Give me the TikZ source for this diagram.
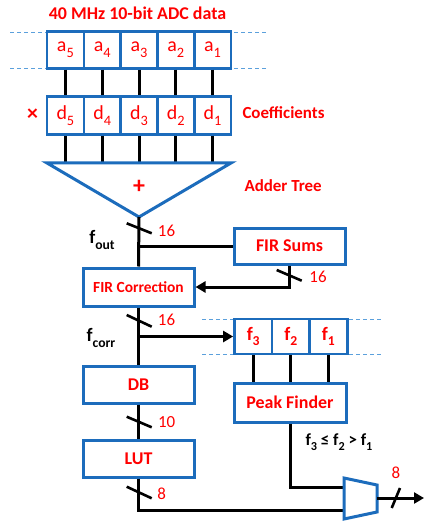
\documentclass[tikz,border=0pt]{standalone}
\usepackage{fontspec}
\setmainfont{Carlito}
\usetikzlibrary{arrows.meta,calc}
\definecolor{boxblue}{RGB}{28,108,188}
\definecolor{dashblue}{RGB}{91,160,220}
\definecolor{lblred}{RGB}{255,0,0}
\newcommand\dn[1]{\raisebox{-0.3em}{\scalebox{0.72}{#1}}}
\begin{document}
\begin{tikzpicture}[x=1bp,y=-1bp,
  cell/.style={draw=boxblue, line width=2.6bp, fill=white, minimum width=36.8bp, minimum height=36.6bp, inner sep=0pt, text=lblred, font=\fontsize{20}{24}\selectfont},
  fcell/.style={cell, minimum width=37.6bp, minimum height=35bp, font=\bfseries\fontsize{19}{23}\selectfont},
  blk/.style={draw=boxblue, line width=3bp, fill=white, inner sep=0pt, text=lblred, font=\bfseries\fontsize{18}{22}\selectfont},
  wire/.style={line width=3bp, black},
  slashl/.style={line width=2.6bp, black},
  num/.style={text=lblred, font=\fontsize{17}{20}\selectfont},
  lbl/.style={text=lblred, font=\bfseries\fontsize{17}{20}\selectfont},
  blab/.style={text=black, font=\bfseries\fontsize{19}{23}\selectfont},
  guide/.style={dashblue, line width=0.8bp, dash pattern=on 4bp off 3bp},
  tip/.style={-{Triangle[length=10bp,width=11bp]}}]
\useasboundingbox (0,0) rectangle (424,521);

% title
\node[lbl, font=\bfseries\fontsize{18}{22}\selectfont] (title) at (137.5,13) {40 MHz 10-bit ADC data};

% guide lines
\draw[guide] (10,32) -- (267,32);
\draw[guide] (10,68) -- (267,68);
\draw[guide] (202,319) -- (383,319);
\draw[guide] (202,354) -- (383,354);

% a and d cells
\foreach \i/\x in {5/65.4,4/102.2,3/139,2/175.8,1/212.6}{
  \node[cell] (a\i) at (\x,50) {a\dn{\i}};
  \node[cell, minimum height=37.6bp] (d\i) at (\x,115.5) {d\dn{\i}};
}
\foreach \i in {5,4,3,2,1}{
  \draw[wire] (a\i.south) -- (d\i.north);
}
\node[lbl, font=\bfseries\fontsize{22}{24}\selectfont] (times) at (32.5,115) {×};
\node[lbl, anchor=west] (coef) at (239,113) {Coefficients};

% adder tree
\coordinate (tl) at (47,163);
\coordinate (tr) at (231,163);
\coordinate (apex) at (139,217);
\foreach \i in {5,4,3,2,1}{
  \draw[wire] (d\i.south) -- (d\i.south |- tl);
}
\draw[draw=boxblue, line width=3bp, fill=white, line join=miter] (tl) -- (tr) -- (apex) -- cycle;
\node[lbl, font=\bfseries\fontsize{24}{26}\selectfont] (plus) at (139,186.5) {+};
\node[lbl, anchor=west] (adder) at (241,186) {Adder Tree};

% blocks
\node[blk, minimum width=111bp, minimum height=36bp] (firsums) at (289.5,246) {FIR Sums};
\node[blk, minimum width=111bp, minimum height=38bp, font=\bfseries\fontsize{15.5}{19}\selectfont] (fircorr) at (138.5,287) {FIR Correction};
\node[blk, minimum width=111bp, minimum height=37bp] (db) at (138.5,384.5) {DB};
\node[blk, minimum width=111bp, minimum height=37bp] (lut) at (138.5,458.5) {LUT};
\node[blk, minimum width=112bp, minimum height=39bp] (peak) at (290,402.5) {Peak Finder};

\node[fcell] (f3) at (253.2,336.5) {f\dn{3}};
\node[fcell] (f2) at (290.8,336.5) {f\dn{2}};
\node[fcell] (f1) at (328.4,336.5) {f\dn{1}};
\foreach \i in {3,2,1}{
  \draw[wire] (f\i.south) -- (f\i.south |- peak.north);
}

% main path
\draw[wire] (apex) -- (fircorr.north);
\coordinate (br1) at (139,246.5);
\draw[wire] (br1) -- (br1 -| firsums.west);
\draw[wire, tip] (firsums.south) |- (fircorr.east);
\draw[wire] (fircorr.south) -- (db.north);
\coordinate (br2) at (139,336.5);
\draw[wire, tip] (br2) -- (f3.west);
\draw[wire] (db.south) -- (lut.north);

% mux
\coordinate (m1) at (344,478);
\coordinate (m2) at (377,485);
\coordinate (m3) at (377,512);
\coordinate (m4) at (344,519);
\coordinate (muxin1) at (344,487);
\coordinate (muxin2) at (344,510);
\coordinate (muxout) at (377,498);
\coordinate (outend) at (424,498);
\draw[wire] (lut.south) |- (muxin2);
\draw[wire] (peak.south) |- (muxin1);
\draw[draw=boxblue, line width=3bp, fill=white, line join=miter] (m1) -- (m2) -- (m3) -- (m4) -- cycle;
\draw[wire, tip] (muxout) -- (outend);

% bus slashes
\draw[slashl] (126.7,223.3) -- (151.7,233.3);
\draw[slashl] (276.7,270) -- (301.7,280.7);
\draw[slashl] (126.7,315) -- (151.7,326.7);
\draw[slashl] (126.7,416.7) -- (151.7,427.3);
\draw[slashl] (126.7,486.7) -- (151.7,498.3);
\draw[slashl] (391.7,508) -- (400,488);

% widths
\node[num] (w1) at (166.5,231) {16};
\node[num] (w2) at (318,276.7) {16};
\node[num] (w3) at (166.5,320) {16};
\node[num] (w4) at (166.7,421.7) {10};
\node[num] (w5) at (161.7,494) {8};
\node[num] (w6) at (396,473) {8};

% black labels
\node[blab] (fout) at (102,240) {f\dn{out}};
\node[blab] (fcorr) at (101,338) {f\dn{corr}};
\node[blab, font=\bfseries\fontsize{17}{20}\selectfont] (cond) at (339,442) {f\dn{3} ≤ f\dn{2} > f\dn{1}};
\end{tikzpicture}
\end{document}
